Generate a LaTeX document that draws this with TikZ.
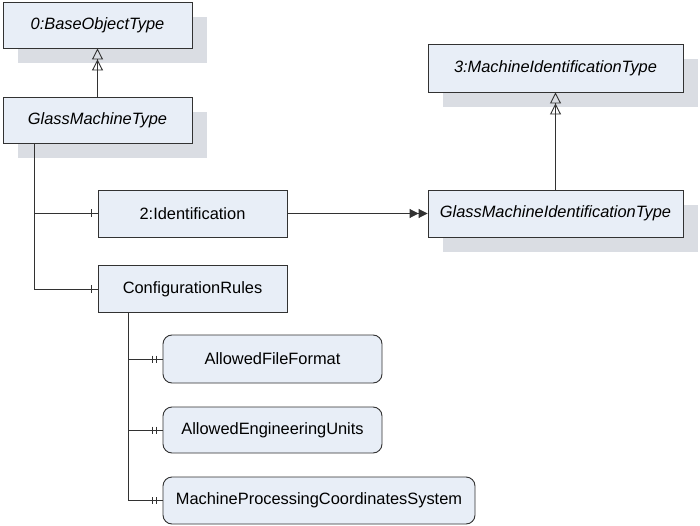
\documentclass[tikz,border=0pt]{standalone}
\usepackage{fontspec}
\setmainfont{Liberation Sans}
\usetikzlibrary{arrows.meta,shadows}
\definecolor{boxfill}{RGB}{232,238,247}
\definecolor{shadowc}{RGB}{218,221,227}
\definecolor{linec}{RGB}{50,50,50}
\tikzset{
  typebox/.style={draw=linec, line width=0.9pt, fill=boxfill, inner sep=0pt,
    font=\fontsize{16.4}{19}\selectfont,
    drop shadow={shadow xshift=15pt, shadow yshift=-15pt, fill=shadowc, opacity=1}},
  objbox/.style={draw=linec, line width=0.9pt, fill=boxfill, inner sep=0pt,
    font=\fontsize{16.4}{19}\selectfont},
  varbox/.style={draw=linec, line width=0.9pt, fill=boxfill, inner sep=0pt,
    rounded corners=9pt, font=\fontsize{16.4}{19}\selectfont},
  conn/.style={draw=linec, line width=0.9pt},
  gen/.style={conn, -{Triangle[open,length=11pt,width=11pt]Triangle[open,length=11pt,width=11pt]}},
  ref/.style={conn, -{Triangle[length=9pt,width=9pt]Triangle[length=9pt,width=9pt]}},
}
\begin{document}
\begin{tikzpicture}[x=1pt,y=-1pt]
\useasboundingbox (0,0) rectangle (700,526);
\fill[white] (0,0) rectangle (700,526);

\node[typebox, minimum width=189pt, minimum height=46pt] (base) at (97.5,25) {\itshape 0:BaseObjectType};
\node[typebox, minimum width=189pt, minimum height=46pt] (gmt) at (97.5,120) {\itshape GlassMachineType};
\node[typebox, minimum width=255pt, minimum height=48pt] (mit) at (555.5,68) {\itshape 3:MachineIdentificationType};
\node[typebox, minimum width=255pt, minimum height=47pt] (gmit) at (555.5,213.5) {\itshape GlassMachineIdentificationType};
\node[objbox, minimum width=189pt, minimum height=47pt] (ident) at (192.5,213.5) {2:Identification};
\node[objbox, minimum width=189pt, minimum height=47pt] (conf) at (192.5,289) {ConfigurationRules};
\node[varbox, minimum width=219pt, minimum height=48pt] (aff) at (272.5,359) {AllowedFileFormat};
\node[varbox, minimum width=219pt, minimum height=46pt] (aeu) at (272.5,430) {AllowedEngineeringUnits};
\node[varbox, minimum width=312pt, minimum height=47pt] (mpcs) at (319,500.5) {MachineProcessingCoordinatesSystem};

% inheritance
\draw[gen] (gmt.north) -- (base.south);
\draw[gen] (gmit.north) -- (mit.south);

% reference to type definition
\draw[ref] (ident.east) -- (gmit.west);

% components of GlassMachineType
\coordinate (gtrunk) at ([xshift=32pt]gmt.south west);
\draw[conn] (gtrunk) |- (ident.west);
\draw[conn] (gtrunk) |- (conf.west);
\draw[conn] ([xshift=-6pt]ident.west) ++(0,-4) -- ++(0,8);
\draw[conn] ([xshift=-6pt]conf.west) ++(0,-4) -- ++(0,8);

% components of ConfigurationRules
\coordinate (ctrunk) at ([xshift=31pt]conf.south west);
\foreach \n in {aff,aeu,mpcs}{
  \draw[conn] (ctrunk) |- (\n.west);
  \draw[conn] ([xshift=-10pt]\n.west) ++(0,-3.5) -- ++(0,7);
  \draw[conn] ([xshift=-6pt]\n.west) ++(0,-3.5) -- ++(0,7);
}
\end{tikzpicture}
\end{document}
